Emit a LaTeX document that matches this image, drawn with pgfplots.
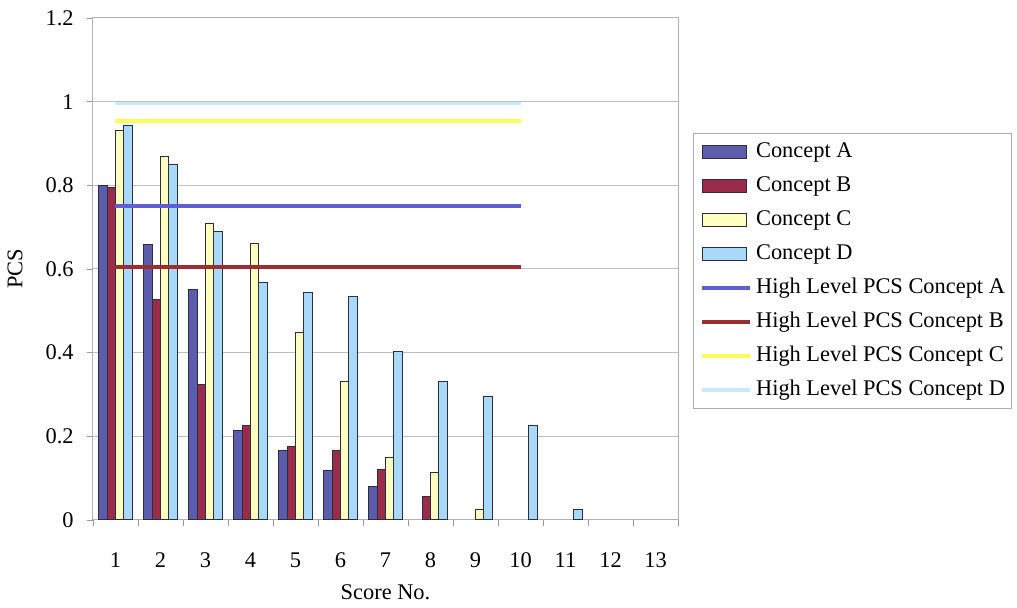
\documentclass[border=0pt]{standalone}
\usepackage{fontspec}
\setmainfont{Liberation Serif}
\usepackage{pgfplots}
\pgfplotsset{compat=1.18}
\definecolor{cA}{RGB}{92,92,172}
\definecolor{cB}{RGB}{152,44,74}
\definecolor{cC}{RGB}{255,255,192}
\definecolor{cD}{RGB}{168,216,250}
\definecolor{lA}{RGB}{95,95,210}
\definecolor{lB}{RGB}{158,45,50}
\definecolor{lC}{RGB}{255,255,90}
\definecolor{lD}{RGB}{200,235,252}
\definecolor{edge}{RGB}{45,45,60}
\definecolor{legframe}{RGB}{175,175,175}
\pgfplotsset{
  barleg/.style={legend image code/.code={\draw[##1] (0pt,-3.3pt) rectangle (22pt,3.3pt); \path (24pt,0pt);}},
  lineleg/.style={legend image code/.code={\draw[##1] (0pt,0pt) -- (24pt,0pt);}},
}
\begin{document}
\fontsize{11.2pt}{13.4pt}\selectfont
\begin{tikzpicture}
\useasboundingbox (-46.5pt,-44pt) rectangle (462pt,260pt);
\begin{axis}[
  at={(0pt,0pt)}, anchor=south west,
  scale only axis, width=292.5pt, height=251pt,
  xmin=0.5, xmax=13.5, ymin=0, ymax=1.2,
  /pgf/number format/assume math mode=true,
  xtick={1,...,13},
  xticklabels={1,2,3,4,5,6,7,8,9,10,11,12,13},
  minor xtick={0.5,1.5,...,13.5},
  major x tick style={draw=none},
  minor x tick style={draw=gray!80},
  minor tick length=3pt,
  ytick={0,0.2,...,1.2},
  yticklabels={0,0.2,0.4,0.6,0.8,1,1.2},
  major tick length=3pt,
  tick align=outside,
  xtick pos=bottom, ytick pos=left,
  y tick style={draw=gray!80},
  ymajorgrids, grid style={gray!50, line width=0.5pt},
  axis line style={gray!60, line width=0.5pt},
  xticklabel style={anchor=base, inner sep=0pt, yshift=-21pt},
  yticklabel style={anchor=east, inner sep=0pt, xshift=-6.5pt},
  xlabel={Score No.},
  ylabel={PCS},
  xlabel style={at={(axis description cs:0.5,0)}, anchor=base, inner sep=0pt, yshift=-40pt},
  ylabel style={at={(axis description cs:-0.1333,0.5)}, anchor=center, inner sep=0pt},
  legend style={at={(1,1)}, anchor=north west, xshift=7.5pt, yshift=-57.5pt,
    draw=legframe, line width=0.5pt, inner xsep=3.5pt, inner ysep=4pt,
    /tikz/row sep=6.5pt, /tikz/column sep=2pt,
    nodes={inner sep=0pt, text height=8pt, text depth=2.5pt}},
  legend cell align=left,
]
\addplot[ybar, bar width=0.187, bar shift=-0.2805, fill=cA, draw=edge, line width=0.5pt, barleg]
 coordinates {(1,0.800) (2,0.658) (3,0.552) (4,0.213) (5,0.166) (6,0.118) (7,0.080)};
\addplot[ybar, bar width=0.187, bar shift=-0.0935, fill=cB, draw=edge, line width=0.5pt, barleg]
 coordinates {(1,0.795) (2,0.526) (3,0.325) (4,0.225) (5,0.175) (6,0.166) (7,0.121) (8,0.056)};
\addplot[ybar, bar width=0.187, bar shift=0.0935, fill=cC, draw=edge, line width=0.5pt, barleg]
 coordinates {(1,0.931) (2,0.869) (3,0.709) (4,0.660) (5,0.448) (6,0.331) (7,0.150) (8,0.113) (9,0.026)};
\addplot[ybar, bar width=0.187, bar shift=0.2805, fill=cD, draw=edge, line width=0.5pt, barleg]
 coordinates {(1,0.943) (2,0.850) (3,0.690) (4,0.568) (5,0.543) (6,0.535) (7,0.402) (8,0.331) (9,0.295) (10,0.226) (11,0.026)};
\addplot[color=lA, line width=1.8pt, mark=none, lineleg] coordinates {(1,0.751) (10,0.751)};
\addplot[color=lB, line width=1.8pt, mark=none, lineleg] coordinates {(1,0.605) (10,0.605)};
\addplot[color=lC, line width=1.8pt, mark=none, lineleg] coordinates {(1,0.954) (10,0.954)};
\addplot[color=lD, line width=1.8pt, mark=none, lineleg] coordinates {(1,0.996) (10,0.996)};
\legend{Concept A, Concept B, Concept C, Concept D, High Level PCS Concept A, High Level PCS Concept B, High Level PCS Concept C, High Level PCS Concept D}
\end{axis}
\end{tikzpicture}
\end{document}
